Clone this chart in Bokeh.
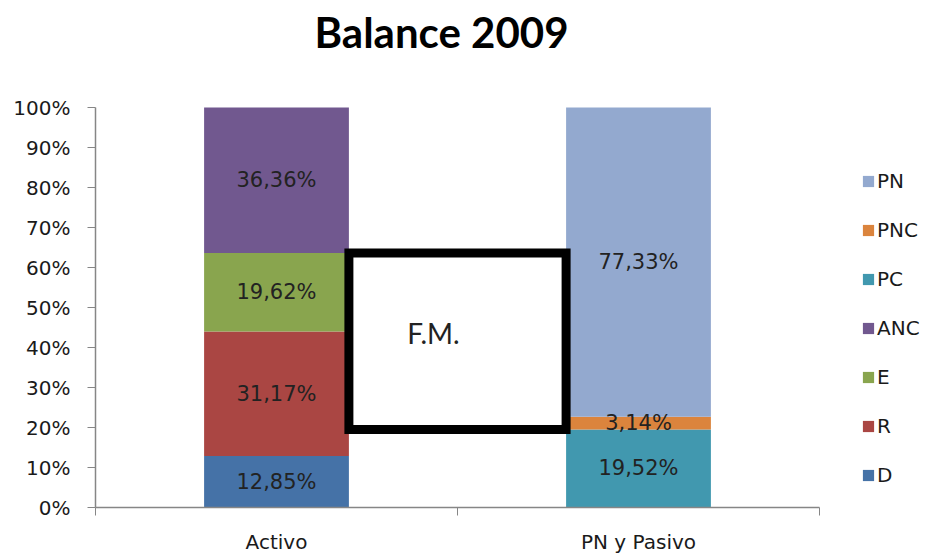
from bokeh.plotting import figure
from bokeh.models import (ColumnDataSource, Range1d, FixedTicker, Legend, LegendItem,
                          Label, NumeralTickFormatter)
from bokeh.core.properties import value
from bokeh.embed import file_html
from bokeh.resources import INLINE

# ---- data ----
categories = ["Activo", "PN y Pasivo"]
series = ["D", "R", "E", "ANC", "PC", "PNC", "PN"]
D = [0.1285, 0.0]
R = [0.3117, 0.0]
E = [0.1962, 0.0]
ANC = [0.3636, 0.0]
PC = [0.0, 0.1952]
PNC = [0.0, 0.0314]
PN = [0.0, 0.7733]
colors = ["#4572A7", "#AA4643", "#89A54E", "#71588F", "#4198AF", "#DB843D", "#93A9CF"]
y_ticks = [0.0, 0.1, 0.2, 0.3, 0.4, 0.5, 0.6, 0.7, 0.8, 0.9, 1.0]
box_label = "F.M."
title_text = "Balance 2009"

values = {"D": D, "R": R, "E": E, "ANC": ANC, "PC": PC, "PNC": PNC, "PN": PN}
xpos = [i + 0.5 for i in range(len(categories))]
bar_w = 0.4

# ---- layout constants (pixels) ----
W, H = 933, 556
left_px, bottom_px = 95, 49          # space for the axes
plot_w_px, plot_h_px = 724, 400      # size of the 0..2 x 0..100% plotting area
frame_w = W - left_px
frame_h = H - bottom_px
x_end = len(categories) * frame_w / plot_w_px
y_end = frame_h / plot_h_px

data = {"x": xpos}
data.update(values)
source = ColumnDataSource(data)

p = figure(width=W, height=H, x_range=Range1d(0, x_end), y_range=Range1d(0, y_end),
           output_backend="svg", toolbar_location=None,
           min_border_left=left_px, min_border_right=0, min_border_top=0,
           min_border_bottom=bottom_px)
p.xgrid.visible = False
p.ygrid.visible = False
p.outline_line_color = None
p.background_fill_color = "white"
p.border_fill_color = "white"

renderers = p.vbar_stack(series, x="x", width=bar_w, color=colors, source=source,
                         line_color=None)

# data labels
lab_x, lab_y, lab_t = [], [], []
for ci in range(len(categories)):
    base = 0.0
    for s in series:
        v = values[s][ci]
        if v > 0:
            lab_x.append(xpos[ci])
            lab_y.append(base + v / 2)
            lab_t.append(("%.2f%%" % (v * 100)).replace(".", ","))
        base += v
p.text(x=lab_x, y=lab_y, text=lab_t, text_align="center", text_baseline="middle",
       text_font=value("DejaVu Sans"), text_font_size="21px", text_color="#222222")

# F.M. box (between current assets and current liabilities)
box_left = xpos[0] + bar_w / 2
box_right = xpos[1] - bar_w / 2
box_top = D[0] + R[0] + E[0]
box_bottom = PC[1]
p.quad(left=[box_left], right=[box_right], top=[box_top], bottom=[box_bottom],
       fill_color="white", line_color="black", line_width=9, line_join="miter")
p.text(x=[(box_left + box_right) / 2], y=[(box_top + box_bottom) / 2], text=[box_label],
       text_align="center", text_baseline="middle", x_offset=-24, y_offset=-8,
       text_font=value("Lato"), text_font_size="28px", text_color="#222222")

# axes
axis_color = "#868686"
xa = p.xaxis[0]
xa.bounds = (0, len(categories))
xa.ticker = FixedTicker(ticks=xpos, minor_ticks=list(range(len(categories) + 1)))
xa.major_label_overrides = {xpos[i]: categories[i] for i in range(len(categories))}
xa.major_tick_line_color = None
xa.minor_tick_line_color = axis_color
xa.minor_tick_out = 8
xa.minor_tick_in = 0
xa.axis_line_color = axis_color
xa.axis_line_width = 1.5
xa.major_label_standoff = 14
xa.major_label_text_font = "DejaVu Sans"
xa.major_label_text_font_size = "20px"
xa.major_label_text_color = "#1a1a1a"

ya = p.yaxis[0]
ya.bounds = (0, 1)
ya.ticker = FixedTicker(ticks=y_ticks, minor_ticks=[])
ya.formatter = NumeralTickFormatter(format="0%")
ya.major_tick_line_color = axis_color
ya.major_tick_out = 8
ya.major_tick_in = 0
ya.minor_tick_line_color = None
ya.axis_line_color = axis_color
ya.axis_line_width = 1.5
ya.major_label_standoff = 17
ya.major_label_text_font = "DejaVu Sans"
ya.major_label_text_font_size = "20px"
ya.major_label_text_color = "#1a1a1a"

# legend (to the right of the bars)
items = [LegendItem(label=s, renderers=[r]) for s, r in zip(series, renderers)][::-1]
legend = Legend(items=items, location=(plot_w_px + 42, 19.5), orientation="vertical",
                glyph_width=14, glyph_height=14, label_standoff=2, spacing=24,
                label_height=25, padding=0, margin=0,
                border_line_color=None, background_fill_alpha=0,
                label_text_font="DejaVu Sans", label_text_font_size="20px",
                label_text_color="#1a1a1a")
p.add_layout(legend)

# title
title = Label(x=(441 - left_px) / plot_w_px * len(categories),
              y=(frame_h - 31) / plot_h_px,
              text=title_text, text_align="center", text_baseline="alphabetic",
              text_font="Lato", text_font_style="bold", text_font_size="42px",
              text_color="#000000")
p.add_layout(title)

open("out.html", "w").write(file_html(p, INLINE))
